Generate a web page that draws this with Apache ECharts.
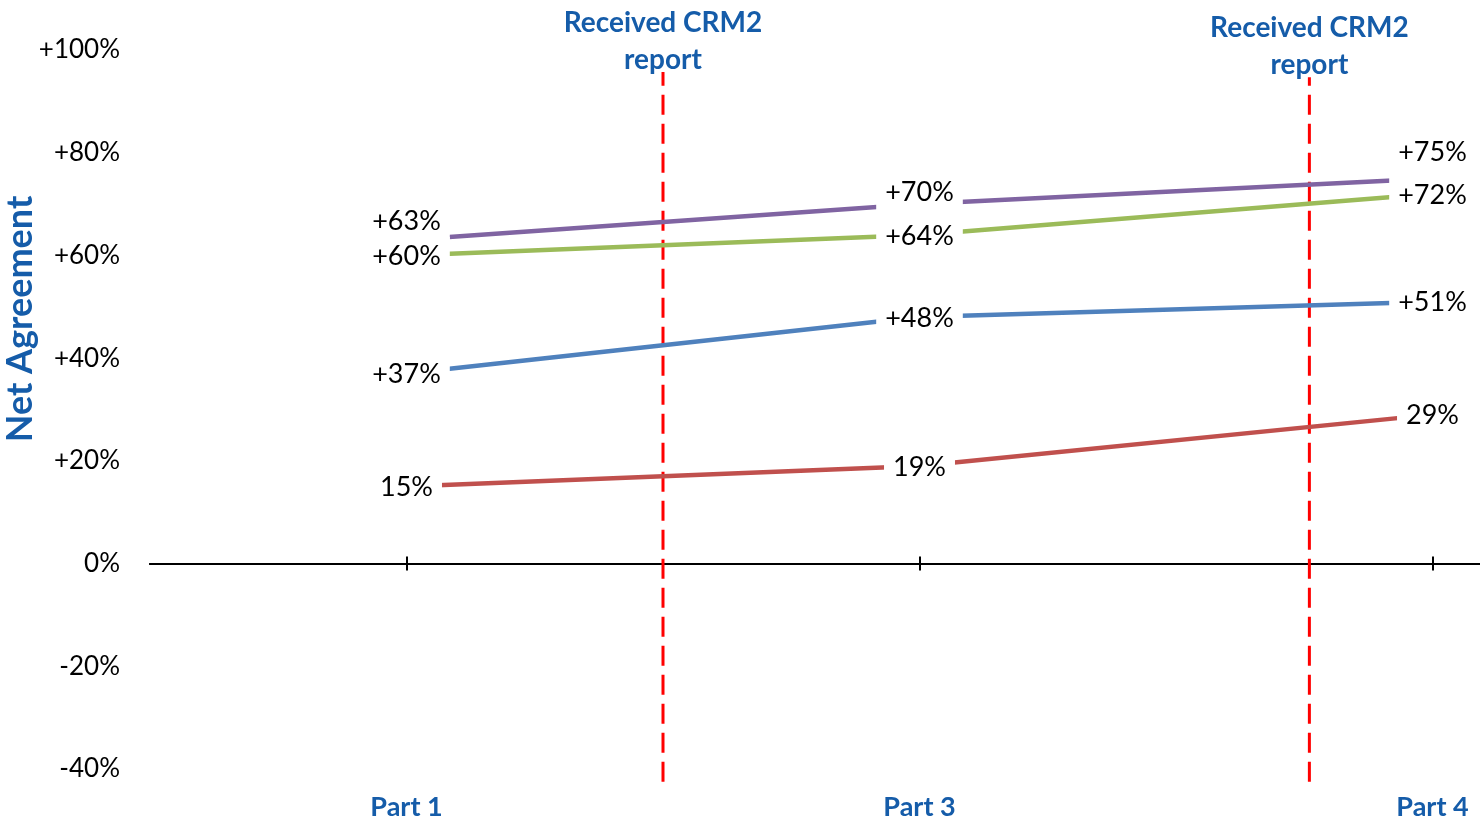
<!DOCTYPE html>
<html>
<head>
<meta charset="utf-8">
<script src="https://cdn.jsdelivr.net/npm/echarts@6/dist/echarts.min.js"></script>
<style>
  html, body { margin: 0; padding: 0; background: #ffffff; }
  #chart { width: 1480px; height: 829px; }
</style>
</head>
<body>
<div id="chart"></div>
<script>
// Categories along the bottom axis
var parts = ['Part 1', 'Part 3', 'Part 4'];

// Net agreement per survey wave (%)
var purpleValues = [63, 70, 75];
var greenValues = [60, 64, 72];
var blueValues = [37, 48, 51];
var redValues = [15, 19, 29];

// Data label texts as printed on the chart
var purpleLabels = ['+63%', '+70%', '+75%'];
var greenLabels = ['+60%', '+64%', '+72%'];
var blueLabels = ['+37%', '+48%', '+51%'];
var redLabels = ['15%', '19%', '29%'];

// "Received CRM2 report" markers, in category units (0 = left edge of Part 1)
var reportX = [1.0, 2.26];
var reportTop = [95.7, 94.7];
var reportBottom = [-42.5, -42.5];
var reportText = 'Received CRM2\nreport';

var BLUE_TEXT = '#155CA9';
var FONT = 'Lato';

// categories sit at the middle of each unit on the value x axis
function catX(i) { return i + 0.5; }

function lineSeries(name, values, labels, color, offsets) {
  return {
    name: name,
    type: 'line',
    xAxisIndex: 0,
    yAxisIndex: 0,
    symbol: 'circle',
    symbolSize: 1,
    itemStyle: { color: color },
    lineStyle: { color: color, width: 4.5 },
    emphasis: { disabled: true },
    data: values.map(function (v, i) {
      return {
        value: [catX(i), v],
        label: { formatter: labels[i], offset: [0, offsets ? offsets[i] : 1] }
      };
    }),
    label: {
      show: true,
      position: 'inside',
      color: '#000000',
      fontFamily: FONT,
      fontSize: 27,
      backgroundColor: '#ffffff',
      padding: [6, 9]
    },
    z: 3
  };
}

function reportSeries(i) {
  return {
    name: 'report' + i,
    type: 'line',
    xAxisIndex: 0,
    yAxisIndex: 0,
    clip: false,
    symbol: 'circle',
    symbolSize: 0,
    lineStyle: { color: '#FF0000', width: 3, type: [20, 9] },
    emphasis: { disabled: true },
    data: [
      { value: [reportX[i], reportBottom[i]] },
      {
        value: [reportX[i], reportTop[i]],
        label: {
          show: true,
          position: 'top',
          distance: -6,
          formatter: reportText,
          color: BLUE_TEXT,
          fontFamily: FONT,
          fontWeight: 'bold',
          fontSize: 28,
          lineHeight: 37,
          align: 'center'
        }
      }
    ],
    z: 2
  };
}

var chart = echarts.init(document.getElementById('chart'), null, { renderer: 'canvas' });

var baseX = {
  type: 'value',
  min: 0,
  max: 3,
  gridIndex: 0,
  splitLine: { show: false },
  axisLabel: { show: false }
};

var option = {
  backgroundColor: '#ffffff',
  animation: false,
  grid: {
    left: 150,
    right: -209,
    top: 50,
    bottom: 60,
    containLabel: false,
    outerBoundsMode: 'none'
  },
  xAxis: [
    // zero line with downward tick half
    Object.assign({}, baseX, {
      position: 'bottom',
      axisLine: { show: true, onZero: true, onZeroAxisIndex: 0, lineStyle: { color: '#000000', width: 2 } },
      axisTick: { show: true, inside: false, length: 7, customValues: [catX(0), catX(1), catX(2)], lineStyle: { color: '#000000', width: 2 } }
    }),
    // upward tick half
    Object.assign({}, baseX, {
      position: 'bottom',
      axisLine: { show: true, onZero: true, onZeroAxisIndex: 0, lineStyle: { color: '#000000', width: 2 } },
      axisTick: { show: true, inside: true, length: 7, customValues: [catX(0), catX(1), catX(2)], lineStyle: { color: '#000000', width: 2 } }
    }),
    // category labels along the bottom of the plot
    Object.assign({}, baseX, {
      position: 'bottom',
      axisLine: { show: false, onZero: false },
      axisTick: { show: false },
      axisLabel: {
        show: true,
        customValues: [catX(0), catX(1), catX(2)],
        formatter: function (v) { return parts[Math.round(v - 0.5)]; },
        margin: 25,
        color: BLUE_TEXT,
        fontFamily: FONT,
        fontWeight: 'bold',
        fontSize: 27
      }
    })
  ],
  yAxis: [{
    type: 'value',
    min: -40,
    max: 100,
    interval: 20,
    axisLine: { show: false },
    axisTick: { show: false },
    splitLine: { show: false },
    axisLabel: {
      margin: 30,
      color: '#000000',
      fontFamily: FONT,
      fontSize: 26,
      formatter: function (v) { return (v > 0 ? '+' : '') + v + '%'; }
    }
  }],
  graphic: [{
    type: 'text',
    x: 20,
    y: 319,
    rotation: Math.PI / 2,
    style: {
      text: 'Net Agreement',
      fill: BLUE_TEXT,
      font: 'bold 36px Lato',
      textAlign: 'center',
      textVerticalAlign: 'middle'
    }
  }],
  series: [
    reportSeries(0),
    reportSeries(1),
    lineSeries('Red', redValues, redLabels, '#C0504D'),
    lineSeries('Blue', blueValues, blueLabels, '#4F81BD'),
    lineSeries('Purple', purpleValues, purpleLabels, '#8064A2', [-19, -12, -26]),
    lineSeries('Green', greenValues, greenLabels, '#9BBB59')
  ]
};

chart.setOption(option);
</script>
</body>
</html>
